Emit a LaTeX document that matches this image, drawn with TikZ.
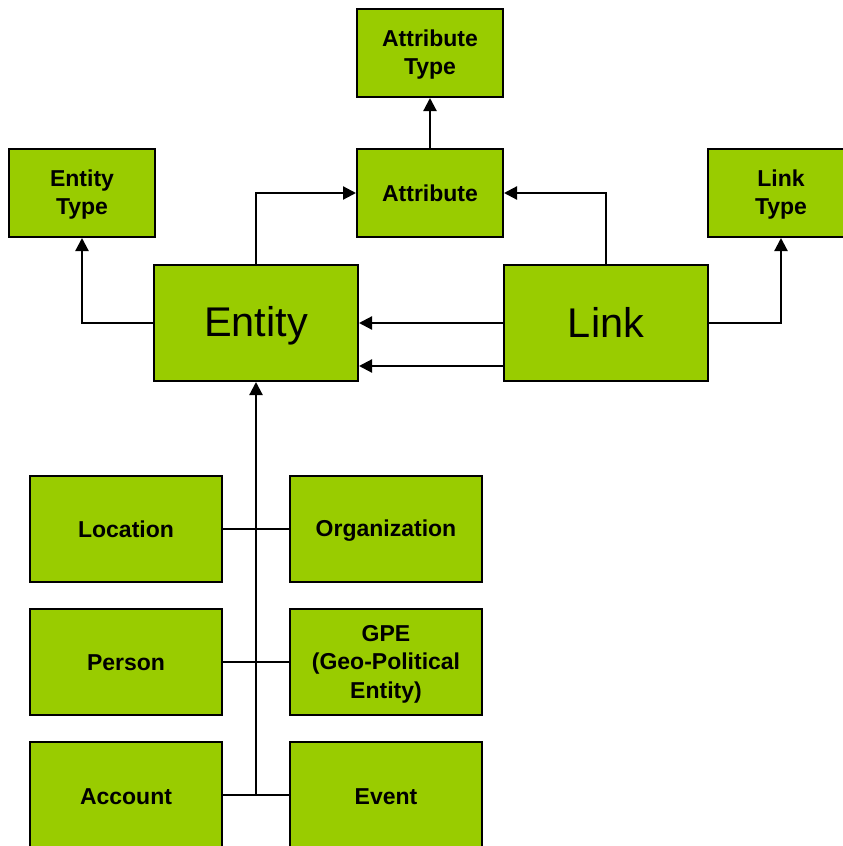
\documentclass[tikz,border=0pt]{standalone}
\usepackage{fontspec}
\setmainfont{Liberation Sans}
\usetikzlibrary{arrows.meta}
\definecolor{boxgreen}{HTML}{99CC00}
% struts that centre capitals on the line box
\newcommand{\smallstrut}{\rule[-3.6pt]{0pt}{23.6pt}}
\newcommand{\bigstrut}{\rule[-6.2pt]{0pt}{42.2pt}}
\begin{document}
\begin{tikzpicture}[x=1pt,y=-1pt,
  box/.style={draw=black, line width=2pt, fill=boxgreen, rectangle,
    inner sep=0pt, align=center, font=\bfseries\fontsize{23}{28.5}\selectfont},
  bigbox/.style={box, font=\fontsize{41.5}{48}\selectfont},
  conn/.style={line width=2.2pt, draw=black},
  arr/.style={conn, -{Triangle[width=13pt,length=13pt]}}]
\useasboundingbox (0,0) rectangle (843,846);
\clip (0,0) rectangle (843,846);

% type boxes
\node[box, minimum width=146pt, minimum height=88pt] (attrtype) at (430,53) {\smallstrut Attribute\\\smallstrut Type};
\node[box, minimum width=146pt, minimum height=88pt] (attr) at (430,193) {\smallstrut Attribute};
\node[box, minimum width=146pt, minimum height=88pt] (etype) at (82,193) {\smallstrut Entity\\\smallstrut Type};
\node[box, minimum width=146pt, minimum height=88pt] (ltype) at (781,193) {\smallstrut Link\\\smallstrut Type};

% main boxes
\node[bigbox, minimum width=204pt, minimum height=116pt] (entity) at (256,323) {\bigstrut Entity};
\node[bigbox, minimum width=204pt, minimum height=116pt] (link) at (606,323) {\bigstrut Link};

% entity subtypes
\node[box, minimum width=192pt, minimum height=106pt] (loc) at (126,529) {\smallstrut Location};
\node[box, minimum width=192pt, minimum height=106pt] (org) at (386,529) {\smallstrut Organization};
\node[box, minimum width=192pt, minimum height=106pt] (person) at (126,662) {\smallstrut Person};
\node[box, minimum width=192pt, minimum height=106pt] (gpe) at (386,662) {\smallstrut GPE\\\smallstrut (Geo-Political\\\smallstrut Entity)};
\node[box, minimum width=192pt, minimum height=108pt] (account) at (126,796) {\smallstrut Account};
\node[box, minimum width=192pt, minimum height=108pt] (event) at (386,796) {\smallstrut Event};

% connectors
\coordinate (trunk) at (256,795);
\coordinate (lowlink) at (0,366);
\draw[arr] (attr.north) -- (attrtype.south);
\draw[arr] (entity.north) |- (attr.west);
\draw[arr] (link.north) |- (attr.east);
\draw[arr] (entity.west) -| (etype.south);
\draw[arr] (link.east) -| (ltype.south);
\draw[arr] (link.west) -- (entity.east);
\draw[arr] (link.west |- lowlink) -- (entity.east |- lowlink);
\draw[arr] (trunk) -- (trunk |- entity.south);
\draw[conn] (loc.east) -- (org.west);
\draw[conn] (person.east) -- (gpe.west);
\draw[conn] (account.east |- trunk) -- (event.west |- trunk);
\end{tikzpicture}
\end{document}
